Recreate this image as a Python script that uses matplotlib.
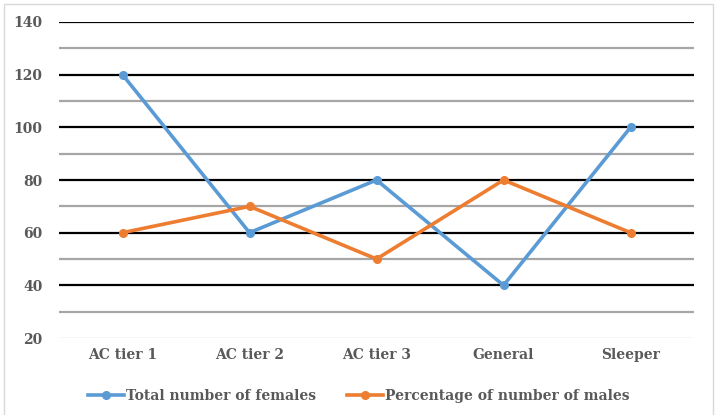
import matplotlib
matplotlib.use("Agg")
import matplotlib.pyplot as plt
from matplotlib.ticker import MultipleLocator

# Chart data
categories = ["AC tier 1", "AC tier 2", "AC tier 3", "General", "Sleeper"]
females = [120, 60, 80, 40, 100]
males_pct = [60, 70, 50, 80, 60]

text_color = "#595959"
fsize = 10

fig = plt.figure(figsize=(7.17, 4.15), dpi=100)
ax = fig.add_axes([0.0823, 0.1855, 0.8857, 0.7615])

x = list(range(len(categories)))
ax.plot(x, females, color="#5B9BD5", lw=2.6, marker="o", ms=5.5,
        label="Total number of females", zorder=3)
ax.plot(x, males_pct, color="#ED7D31", lw=2.6, marker="o", ms=5.5,
        label="Percentage of number of males", zorder=3)

ax.set_xlim(-0.5, len(categories) - 0.5)
ax.set_ylim(20, 140)
ax.yaxis.set_major_locator(MultipleLocator(20))

# gridlines: black majors, gray minors, light baseline at 20
for y in range(40, 141, 20):
    ax.axhline(y, color="black", lw=1.6, zorder=1)
for y in range(30, 140, 20):
    ax.axhline(y, color="#A6A6A6", lw=1.6, zorder=1)
ax.axhline(20, color="#D9D9D9", lw=1.0, zorder=1)

for s in ax.spines.values():
    s.set_visible(False)
ax.tick_params(axis="both", which="both", length=0)
ax.tick_params(axis="y", pad=12)
ax.tick_params(axis="x", pad=7)
ax.set_xticks(x)
ax.set_xticklabels(categories)
for lbl in ax.get_xticklabels() + ax.get_yticklabels():
    lbl.set_fontfamily("DejaVu Serif")
    lbl.set_fontweight("bold")
    lbl.set_color(text_color)
    lbl.set_fontsize(fsize)

leg = fig.legend(loc="lower center", bbox_to_anchor=(0.5, 0.0), ncol=2,
                 frameon=False, handlelength=2.6, handletextpad=0.15,
                 columnspacing=2.2,
                 prop={"family": "DejaVu Serif", "weight": "bold", "size": fsize})
for t in leg.get_texts():
    t.set_color(text_color)

# light border around the chart
fig.patches.append(plt.Rectangle((0.006, -0.01), 0.988, 1.0, transform=fig.transFigure,
                                 fill=False, edgecolor="#D9D9D9", lw=1.0))

fig.savefig("out.png", dpi=100)
